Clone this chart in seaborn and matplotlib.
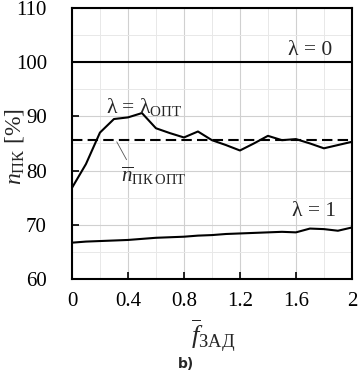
import numpy as np
import pandas as pd
import matplotlib
matplotlib.use("Agg")
import matplotlib.pyplot as plt
from matplotlib.ticker import MultipleLocator
import seaborn as sns

# data
f_zad = [0.0, 0.1, 0.2, 0.3, 0.4, 0.5, 0.6, 0.7, 0.8, 0.9, 1.0,
         1.1, 1.2, 1.3, 1.4, 1.5, 1.6, 1.7, 1.8, 1.9, 2.0]
n_lam0 = [100.0] * 21
n_opt = [76.8, 81.2, 87.0, 89.5, 89.8, 90.6, 87.8, 86.9, 86.1, 87.2, 85.6,
         84.7, 83.7, 85.0, 86.4, 85.6, 85.8, 85.0, 84.1, 84.7, 85.3]
n_lam1 = [66.7, 66.9, 67.0, 67.1, 67.2, 67.4, 67.6, 67.7, 67.8, 68.0, 68.1,
          68.3, 68.4, 68.5, 68.6, 68.7, 68.6, 69.3, 69.2, 68.9, 69.5]
n_opt_mean = 85.6

sns.set_theme(style="white")
plt.rcParams['font.family'] = ['Liberation Serif', 'DejaVu Serif']
plt.rcParams['mathtext.fontset'] = 'custom'
plt.rcParams['mathtext.rm'] = 'Liberation Serif'
plt.rcParams['mathtext.it'] = 'Liberation Serif:italic'

df = pd.DataFrame({'f': f_zad * 3,
                   'n': n_lam0 + n_opt + n_lam1,
                   'case': ['l0'] * 21 + ['opt'] * 21 + ['l1'] * 21})

fig = plt.figure(figsize=(3.58, 3.74), dpi=100)
ax = fig.add_axes([0.201, 0.254, 0.782, 0.725])

sns.lineplot(data=df, x='f', y='n', units='case', estimator=None,
             color='black', lw=1.5, ax=ax)
ax.axhline(n_opt_mean, color='black', lw=1.5, ls=(0, (5, 2.5)))

ax.set_xlim(0, 2)
ax.set_ylim(60, 110)
ax.xaxis.set_minor_locator(MultipleLocator(0.2))
ax.yaxis.set_major_locator(MultipleLocator(10))
ax.yaxis.set_minor_locator(MultipleLocator(5))
ax.set_xticks([0, 0.4, 0.8, 1.2, 1.6, 2.0])
ax.set_xticklabels(['0', '0.4', '0.8', '1.2', '1.6', '2'])
ax.grid(which='major', color='#d0d0d0', lw=0.8)
ax.grid(which='minor', color='#e8e8e8', lw=0.7)
ax.set_axisbelow(True)

ax.tick_params(which='major', direction='in', length=5, width=1.2,
               labelsize=15, colors='black', left=True, bottom=True)
ax.tick_params(axis='y', pad=18)
ax.tick_params(axis='x', pad=9)
ax.tick_params(which='minor', length=0)
for s in ax.spines.values():
    s.set_color('black')
    s.set_linewidth(1.5)

ax.set_xlabel(r'$\overline{f}_{\mathrm{ЗАД}}$', fontsize=19)
ax.xaxis.set_label_coords(0.505, -0.14)
ax.set_ylabel(r'$n_{\mathrm{ПК}}$ [%]', fontsize=17)
ax.yaxis.set_label_coords(-0.165, 0.49)

ax.text(1.70, 102.2, 'λ = 0', fontsize=15.5, ha='center', va='center')
ax.text(0.52, 91.7, r'λ = λ$_{\mathrm{ОПТ}}$', fontsize=15.5, ha='center', va='center')
ax.text(1.73, 72.4, 'λ = 1', fontsize=15.5, ha='center', va='center')
ax.text(0.35, 79.0, r'$\overline{n}_{\mathrm{ПК\;ОПТ}}$', fontsize=15, ha='left', va='center')
ax.plot([0.32, 0.39], [85.3, 82.0], color='#555555', lw=0.6)

fig.text(0.52, 0.028, 'b)', fontsize=10, fontweight='bold',
         family='DejaVu Sans', ha='center', va='center')

fig.savefig('out.png', dpi=100)
